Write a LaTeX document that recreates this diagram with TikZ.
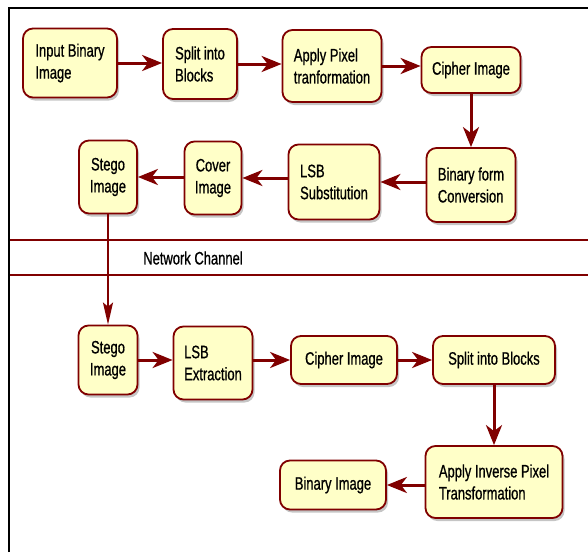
\documentclass[tikz,border=0pt]{standalone}
\usepackage{fontspec}
\setmainfont{Liberation Sans}[FakeStretch=0.72,FakeBold=0.8]
\usetikzlibrary{arrows.meta,shadows}
\definecolor{brd}{HTML}{800000}
\definecolor{bx}{HTML}{FFFFC8}

\tikzset{
  procbox/.style={draw=brd, fill=bx, line width=1.8pt, rounded corners=10pt, align=left,
    inner sep=0pt, font=\fontsize{18}{22}\selectfont,
    drop shadow={shadow xshift=2pt, shadow yshift=-3pt, fill=black!45, opacity=.5}},
  flow/.style={draw=brd, line width=3pt, -{Stealth[length=20pt,width=16pt,inset=6pt]}},
  chan/.style={draw=brd, line width=2.8pt},
}

\begin{document}
\begin{tikzpicture}[x=1pt,y=-1pt]
            \useasboundingbox (0,0) rectangle (588,552);
            % frame
            \draw[line width=2pt] (9,552) -- (9,8) -- (588,8);
            % sender side
            \node[procbox, minimum width=94pt, minimum height=69pt] (inbin) at (70,63) {Input Binary\\Image};
            \node[procbox, minimum width=74pt, minimum height=70pt] (split) at (200,64) {Split into\\Blocks};
            \node[procbox, minimum width=99pt, minimum height=72pt] (pixtr) at (332,66) {Apply Pixel\\tranformation};
            \node[procbox, minimum width=99pt, minimum height=46pt] (ciph) at (471,70) {Cipher Image};
            \node[procbox, minimum width=89pt, minimum height=74pt] (binconv) at (471,185) {Binary form\\Conversion};
            \node[procbox, minimum width=91pt, minimum height=75pt] (lsbsub) at (334,182) {LSB\\Substitution};
            \node[procbox, align=center, minimum width=57pt, minimum height=73pt] (cover) at (213,178) {Cover\\Image};
            \node[procbox, align=center, minimum width=58pt, minimum height=73pt] (stego) at (108,177) {Stego\\Image};
            % network channel
            \draw[chan] (10,240) -- (588,240);
            \draw[chan] (10,275) -- (588,275);
            \node[font=\fontsize{18}{22}\selectfont] (net) at (193,258) {Network Channel};
            % receiver side
            \node[procbox, align=center, minimum width=59pt, minimum height=69pt] (stegob) at (108,360) {Stego\\Image};
            \node[procbox, minimum width=79pt, minimum height=73pt] (lsbext) at (213,363) {LSB\\Extraction};
            \node[procbox, minimum width=106pt, minimum height=48pt] (ciphb) at (344,360) {Cipher Image};
            \node[procbox, minimum width=122pt, minimum height=48pt] (splitb) at (494,360) {Split into Blocks};
            \node[procbox, minimum width=137pt, minimum height=72pt] (invtr) at (494,482) {Apply Inverse Pixel\\Transformation};
            \node[procbox, minimum width=106pt, minimum height=49pt] (binimg) at (333,485) {Binary Image};
            % arrows
            \draw[flow] (inbin.east) -- (inbin.east -| split.west);
            \draw[flow] (split.east) -- (split.east -| pixtr.west);
            \draw[flow] (pixtr.east) -- (pixtr.east -| ciph.west);
            \draw[flow] (ciph.south) -- (binconv.north);
            \draw[flow] (binconv.west |- lsbsub) -- (lsbsub.east);
            \draw[flow] (lsbsub.west |- cover) -- (cover.east);
            \draw[flow] (cover.west |- stego) -- (stego.east);
            \draw[draw=brd, line width=2pt, -{Stealth[length=22pt,width=10pt,inset=4pt]}] (stego.south) -- (stegob.north);
            \draw[flow] (stegob.east) -- (stegob.east -| lsbext.west);
            \draw[flow] (lsbext.east |- ciphb) -- (ciphb.west);
            \draw[flow] (ciphb.east) -- (splitb.west);
            \draw[flow] (splitb.south) -- (invtr.north);
            \draw[flow] (invtr.west |- binimg) -- (binimg.east);
\end{tikzpicture}
\end{document}
